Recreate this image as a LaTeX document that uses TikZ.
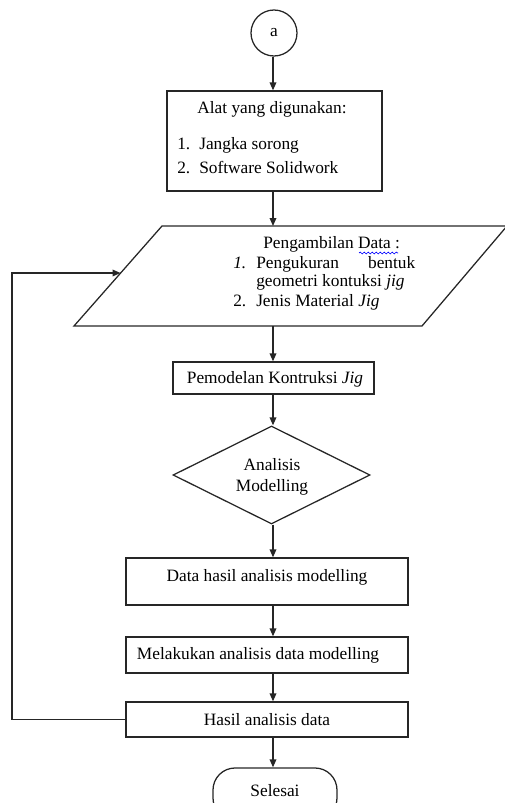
\documentclass[tikz,border=0pt]{standalone}
\usepackage{fontspec}
\setmainfont{Liberation Serif}
\usetikzlibrary{shapes.geometric,arrows.meta,decorations.pathmorphing}
\begin{document}
\begin{tikzpicture}[x=0.75pt,y=-0.75pt,
  every node/.style={font=\fontsize{13}{15}\selectfont},
  ln/.style={draw=black!85,line width=0.95pt},
  arr/.style={ln,-{Triangle[length=6pt,width=5pt]}},
  procbox/.style={ln,rectangle,inner sep=0pt},
  txt/.style={inner sep=0pt}]
\useasboundingbox (0,0) rectangle (505,803);
\clip (0,0) rectangle (505,803);

% start connector
\node[ln,circle,minimum size=34.5pt,inner sep=0pt] (a) at (274,33) {a};

% tools box
\node[procbox,minimum width=161.25pt,minimum height=75pt] (alat) at (274.5,141) {};
\node[txt] (alatT) at (272,109) {Alat yang digunakan:};
\node[txt,anchor=west] (alat1) at (177,145) {\makebox[16.5pt][l]{1.}Jangka sorong};
\node[txt,anchor=west] (alat2) at (177,168) {\makebox[16.5pt][l]{2.}Software Solidwork};

% data input parallelogram
\coordinate (p1) at (162,226);
\coordinate (p2) at (507,226);
\coordinate (p3) at (422,326);
\coordinate (p4) at (74,326);
\coordinate (ptop) at (273,226);
\coordinate (pbot) at (273,326);
\coordinate (fb) at (120.5,273);
\draw[ln,line join=miter] (p1) -- (p2) -- (p3) -- (p4) -- cycle;
\node[txt,anchor=west] (dataT) at (263,244) {Pengambilan Data :};
\coordinate (w1) at (359,253);
\coordinate (w2) at (398,253);
\draw[blue,line width=0.5pt,decorate,decoration={snake,amplitude=0.7pt,segment length=3pt}] (w1) -- (w2);
\node[txt,anchor=west] (data1) at (233,264) {\makebox[136.5pt][l]{\makebox[17.25pt][l]{\textit{1.}}Pengukuran\hfill bentuk}};
\node[txt,anchor=west] (data1b) at (256,282) {geometri kontuksi \textit{jig}};
\node[txt,anchor=west] (data2) at (233,302) {\makebox[17.25pt][l]{2.}Jenis Material \textit{Jig}};

% modelling box
\node[procbox,minimum width=150.75pt,minimum height=24pt] (model) at (273.5,378) {};
\node[txt] (modelT) at (275,379) {Pemodelan Kontruksi \textit{Jig}};

% decision
\node[ln,diamond,minimum width=147.75pt,minimum height=73.5pt,inner sep=0pt] (dec) at (271.5,475) {};
\node[txt] (decT1) at (272,465) {Analisis};
\node[txt] (decT2) at (272,487) {Modelling};

% result boxes
\node[procbox,minimum width=211.5pt,minimum height=35.25pt] (hasilM) at (267,581.5) {};
\node[txt] (hasilMT) at (267,577) {Data hasil analisis modelling};
\node[procbox,minimum width=211.5pt,minimum height=27pt] (melak) at (267,655) {};
\node[txt] (melakT) at (258,655) {Melakukan analisis data modelling};
\node[procbox,minimum width=211.5pt,minimum height=26.25pt] (hasil) at (267,719.5) {};
\node[txt] (hasilT) at (267,720) {Hasil analisis data};

% terminator
\node[ln,rectangle,rounded corners=16.5pt,minimum width=93pt,minimum height=39pt,inner sep=0pt] (end) at (275,794) {};
\node[txt] (endT) at (275,791) {Selesai};

% connectors
\coordinate (x0) at (273,0);
\draw[arr] (a.south -| x0) -- (alat.north -| x0);
\draw[arr] (alat.south -| x0) -- (ptop);
\draw[arr] (pbot) -- (model.north -| x0);
\draw[arr] (model.south -| x0) -- (dec.north -| x0);
\draw[arr] (dec.south -| x0) -- (hasilM.north -| x0);
\draw[arr] (hasilM.south -| x0) -- (melak.north -| x0);
\draw[arr] (melak.south -| x0) -- (hasil.north -| x0);
\draw[arr] (hasil.south -| x0) -- (end.north -| x0);

% feedback loop
\coordinate (c1) at (12,720);
\draw[arr] (hasil.west) -- (hasil.west -| c1) |- (fb);
\end{tikzpicture}
\end{document}
